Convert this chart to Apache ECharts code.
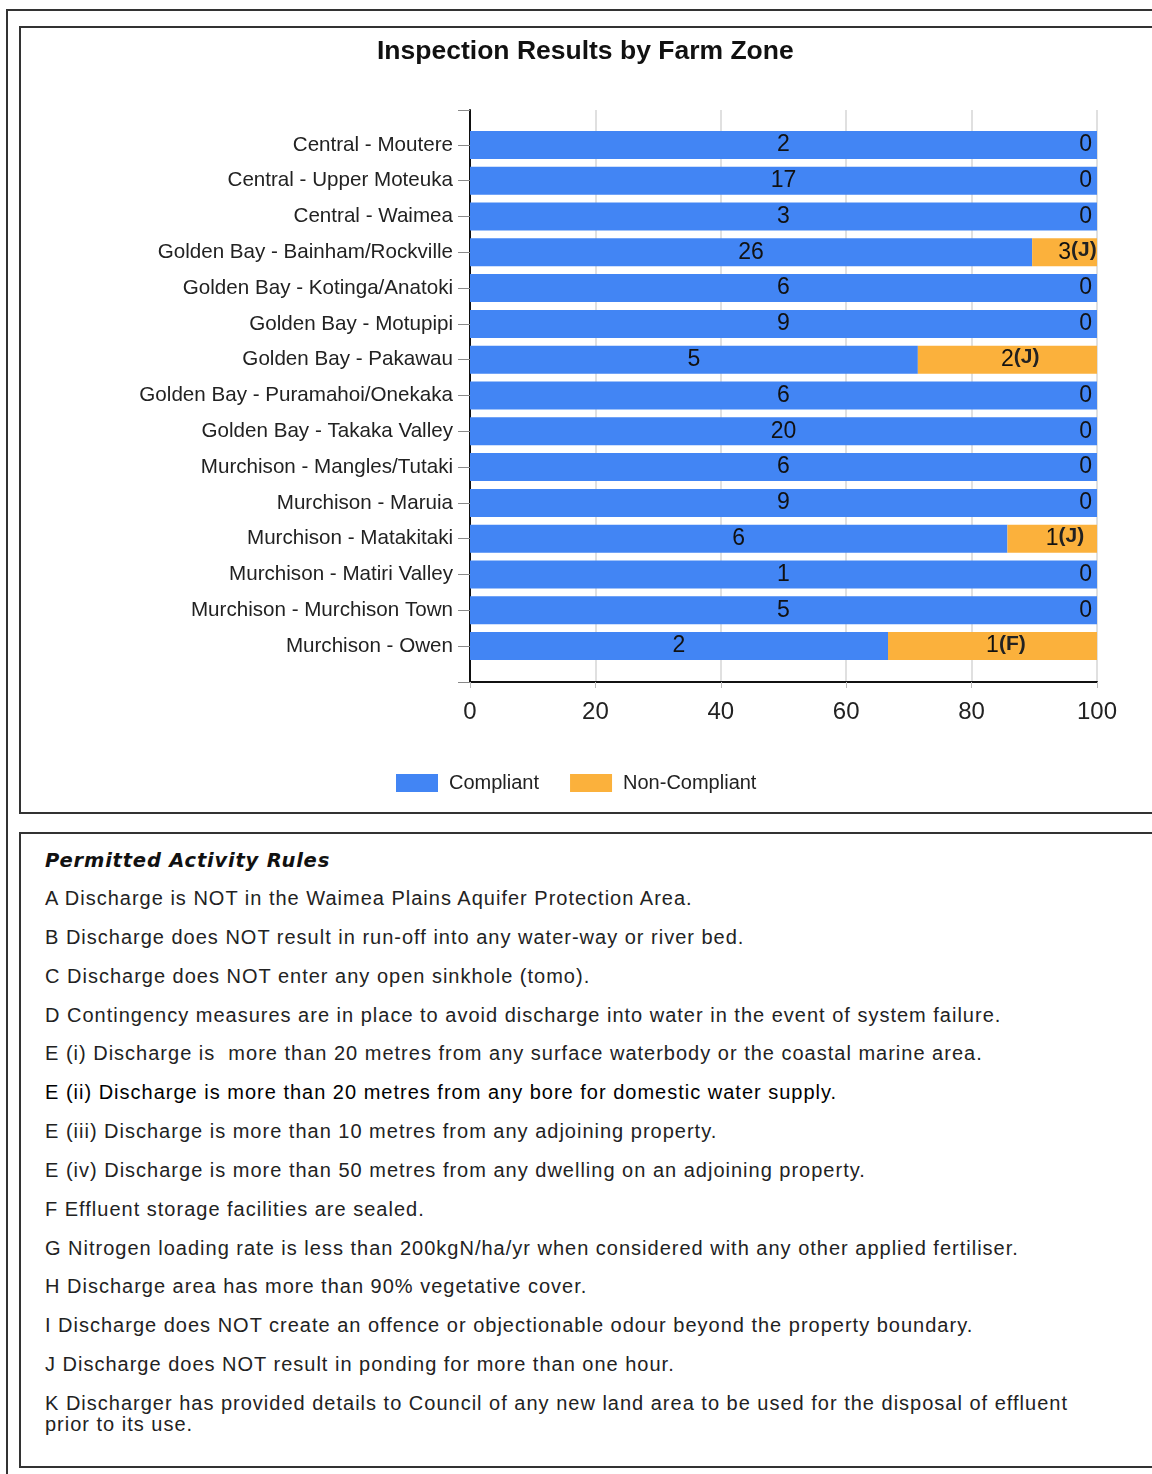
<!DOCTYPE html>
<html>
<head>
<meta charset="utf-8">
<title>Inspection Results by Farm Zone</title>
<script src="https://cdn.jsdelivr.net/npm/echarts@6/dist/echarts.min.js"></script>
<style>
  html, body { margin: 0; padding: 0; width: 1152px; height: 1474px; overflow: hidden; background: #fff; }
  .frame { position: absolute; box-sizing: border-box; border: 2px solid #333; }
  #outer { left: 6px; top: 9px; width: 1300px; height: 1600px; }
  #chartBox { left: 19px; top: 26px; width: 1300px; height: 788px; }
  #rulesBox { left: 19px; top: 832px; width: 1300px; height: 636px; padding: 16px 0 0 24px;
              font-family: "Liberation Sans", Arial, sans-serif; color: #222; }
  #chart { position: absolute; left: 0; top: 0; width: 1152px; height: 813px; z-index: 2; }
  #rulesBox h3 { margin: 0 0 16px 0; font-family: "DejaVu Sans", sans-serif; font-weight: bold; font-style: italic;
                 font-size: 19.5px; line-height: 22px; color: #111; letter-spacing: 0.8px; }
  #rulesBox p { margin: 0 0 17.85px 0; font-size: 20px; line-height: 21px; letter-spacing: 1px; }
  #rulesBox p.dark { color: #000; }
</style>
</head>
<body>
<div id="outer" class="frame"></div>
<div id="chartBox" class="frame"></div>
<div id="rulesBox" class="frame">
  <h3>Permitted Activity Rules</h3>
  <p>A Discharge is NOT in the Waimea Plains Aquifer Protection Area.</p>
  <p>B Discharge does NOT result in run-off into any water-way or river bed.</p>
  <p>C Discharge does NOT enter any open sinkhole (tomo).</p>
  <p>D Contingency measures are in place to avoid discharge into water in the event of system failure.</p>
  <p>E (i) Discharge is&nbsp; more than 20 metres from any surface waterbody or the coastal marine area.</p>
  <p class="dark">E (ii) Discharge is more than 20 metres from any bore for domestic water supply.</p>
  <p>E (iii) Discharge is more than 10 metres from any adjoining property.</p>
  <p>E (iv) Discharge is more than 50 metres from any dwelling on an adjoining property.</p>
  <p>F Effluent storage facilities are sealed.</p>
  <p>G Nitrogen loading rate is less than 200kgN/ha/yr when considered with any other applied fertiliser.</p>
  <p>H Discharge area has more than 90% vegetative cover.</p>
  <p>I Discharge does NOT create an offence or objectionable odour beyond the property boundary.</p>
  <p>J Discharge does NOT result in ponding for more than one hour.</p>
  <p>K Discharger has provided details to Council of any new land area to be used for the disposal of effluent<br>prior to its use.</p>
</div>
<div id="chart"></div>
<script>
// Farm zones, top to bottom
const zones = [
  'Central - Moutere',
  'Central - Upper Moteuka',
  'Central - Waimea',
  'Golden Bay - Bainham/Rockville',
  'Golden Bay - Kotinga/Anatoki',
  'Golden Bay - Motupipi',
  'Golden Bay - Pakawau',
  'Golden Bay - Puramahoi/Onekaka',
  'Golden Bay - Takaka Valley',
  'Murchison - Mangles/Tutaki',
  'Murchison - Maruia',
  'Murchison - Matakitaki',
  'Murchison - Matiri Valley',
  'Murchison - Murchison Town',
  'Murchison - Owen'
];

// Number of inspections per zone
const compliant    = [2, 17, 3, 26, 6, 9, 5, 6, 20, 6, 9, 6, 1, 5, 2];
const nonCompliant = [0, 0, 0, 3, 0, 0, 2, 0, 0, 0, 0, 1, 0, 0, 1];
// Rule breached by the non-compliant inspections
const breachedRule = ['', '', '', 'J', '', '', 'J', '', '', '', '', 'J', '', '', 'F'];

// Percentage axis ticks
const percentTicks = [0, 20, 40, 60, 80, 100];

const BLUE = '#4285f4';
const ORANGE = '#fbb13c';
const FONT = '"Liberation Sans", Arial, sans-serif';

const totals = compliant.map((c, i) => c + nonCompliant[i]);
const pct = (v, i) => v / totals[i] * 100;

const compliantData = compliant.map((c, i) => pct(c, i));
const nonCompliantData = nonCompliant.map((n, i) => ({
  value: pct(n, i),
  label: n === 0
    ? { position: 'insideRight', distance: 5 }
    : { position: 'inside' }
}));

const chart = echarts.init(document.getElementById('chart'), null, { renderer: 'canvas' });

const option = {
  backgroundColor: 'transparent',
  animation: false,
  textStyle: { fontFamily: FONT },
  title: {
    text: 'Inspection Results by Farm Zone',
    left: 372,
    top: 33,
    textStyle: { fontSize: 26.5, fontWeight: 'bold', color: '#111', fontFamily: FONT }
  },
  legend: {
    data: ['Compliant', 'Non-Compliant'],
    left: 391,
    top: 768,
    icon: 'rect',
    itemWidth: 42,
    itemHeight: 18,
    itemGap: 31,
    textStyle: { fontSize: 20, color: '#222', padding: [0, 0, 0, 6], fontFamily: FONT }
  },
  grid: [
    { left: 470, width: 627, top: 110, height: 572 },
    { left: 470, width: 627, top: 127, height: 537 }
  ],
  xAxis: [
    {
      gridIndex: 0,
      type: 'value',
      min: percentTicks[0],
      max: percentTicks[percentTicks.length - 1],
      interval: percentTicks[1] - percentTicks[0],
      axisLine: { show: true, lineStyle: { color: '#111', width: 2 } },
      axisTick: { show: true, length: 6, lineStyle: { color: '#bbb' } },
      axisLabel: { fontSize: 24, color: '#222', margin: 18, fontFamily: FONT },
      splitLine: { show: true, lineStyle: { color: '#e0e0e0', width: 2 } }
    },
    { gridIndex: 1, type: 'value', min: 0, max: 100, show: false }
  ],
  yAxis: [
    {
      gridIndex: 0,
      type: 'value',
      min: 0,
      max: 1,
      interval: 1,
      axisLine: { show: true, lineStyle: { color: '#111', width: 2 } },
      axisTick: { show: true, length: 12, lineStyle: { color: '#888' } },
      axisLabel: { show: false },
      splitLine: { show: false }
    },
    {
      gridIndex: 1,
      type: 'category',
      data: zones,
      inverse: true,
      axisLine: { show: false },
      axisTick: { show: true, alignWithLabel: true, length: 12, lineStyle: { color: '#888' } },
      axisLabel: { fontSize: 20.6, color: '#222', margin: 17, fontFamily: FONT }
    }
  ],
  series: [
    {
      name: 'Compliant',
      type: 'bar',
      stack: 'total',
      xAxisIndex: 1,
      yAxisIndex: 1,
      barWidth: 28,
      itemStyle: { color: BLUE },
      label: {
        show: true,
        position: 'inside',
        fontSize: 23,
        color: '#111',
        fontFamily: FONT,
        formatter: p => String(compliant[p.dataIndex])
      },
      data: compliantData
    },
    {
      name: 'Non-Compliant',
      type: 'bar',
      stack: 'total',
      xAxisIndex: 1,
      yAxisIndex: 1,
      barWidth: 28,
      itemStyle: { color: ORANGE },
      label: {
        show: true,
        fontSize: 23,
        color: '#111',
        fontFamily: FONT,
        formatter: p => {
          const n = nonCompliant[p.dataIndex];
          const r = breachedRule[p.dataIndex];
          if (n === 0) return '0';
          // invisible copy of the suffix on the left keeps the count centred
          return '{pad|(' + r + ')}{n|' + n + '}{r|(' + r + ')}';
        },
        rich: {
          pad: { fontSize: 21, fontWeight: 'bold', color: 'rgba(0,0,0,0)', fontFamily: FONT },
          n: { fontSize: 23, color: '#111', fontFamily: FONT },
          r: { fontSize: 21, fontWeight: 'bold', color: '#222', fontFamily: FONT, verticalAlign: 'bottom', padding: [0, 0, 4, 0] }
        }
      },
      data: nonCompliantData
    }
  ]
};

chart.setOption(option);
</script>
</body>
</html>
